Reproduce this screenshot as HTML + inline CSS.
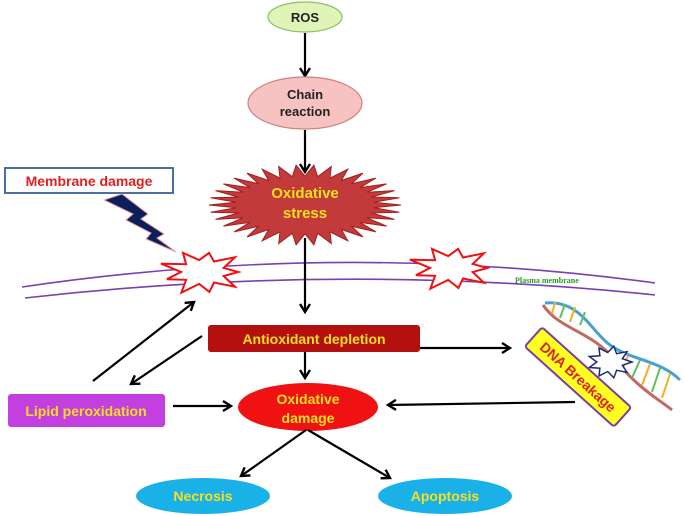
<!DOCTYPE html>
<html><head><meta charset="utf-8"><style>
html,body{margin:0;padding:0;background:#fff;}
svg{display:block;font-family:"Liberation Sans",Arial,sans-serif;font-weight:bold;}
</style></head><body>
<svg id="s" width="685" height="516" viewBox="0 0 685 516" xmlns="http://www.w3.org/2000/svg">
<defs>
<marker id="ah" markerWidth="12" markerHeight="12" refX="9" refY="6" orient="auto" markerUnits="userSpaceOnUse">
<path d="M1,1 L9,6 L1,11" fill="none" stroke="#000" stroke-width="2.4"/>
</marker>
</defs>
<path d="M22,287 Q340,240 655,283" fill="none" stroke="#7a3fb0" stroke-width="1.6"/>
<path d="M25,298 Q340,262 655,295" fill="none" stroke="#7a3fb0" stroke-width="1.6"/>
<g id="stars"></g>
<text x="515" y="283" font-family="Liberation Serif,serif" font-size="8" fill="#2a9a2a">Plasma membrane</text>

<ellipse cx="305" cy="17" rx="37" ry="15" fill="#dff5b8" stroke="#8cc060" stroke-width="1.2"/>
<text x="305" y="22" text-anchor="middle" font-size="13" fill="#222">ROS</text>
<line x1="305" y1="33" x2="305" y2="76" stroke="#000" stroke-width="2.2" marker-end="url(#ah)"/>
<ellipse cx="305" cy="103" rx="57" ry="26" fill="#f7c2c2" stroke="#d08080" stroke-width="1.2"/>
<text x="305" y="99" text-anchor="middle" font-size="13" fill="#222">Chain</text>
<text x="305" y="116" text-anchor="middle" font-size="13" fill="#222">reaction</text>
<line x1="305" y1="130" x2="305" y2="172" stroke="#000" stroke-width="2.2" marker-end="url(#ah)"/>
<polygon id="stress" fill="#c23a3a" stroke="#a02020" stroke-width="1"/>
<text x="305" y="198" text-anchor="middle" font-size="15" fill="#f5e020">Oxidative</text>
<text x="305" y="218" text-anchor="middle" font-size="15" fill="#f5e020">stress</text>
<line x1="305" y1="238" x2="305" y2="312" stroke="#000" stroke-width="2.2" marker-end="url(#ah)"/>

<rect x="5" y="168" width="168" height="25" fill="#fff" stroke="#4a6fa0" stroke-width="2"/>
<text x="89" y="186" text-anchor="middle" font-size="14" fill="#e02020">Membrane damage</text>
<polygon points="122,194 148,214 141,219 164,234 157,238 176,252 146,239 151,233 126,220 133,214 104,200" fill="#0b1f5c" stroke="#f0a0a0" stroke-width="1"/>

<rect x="208" y="325" width="212" height="27" rx="3" fill="#b51010"/>
<text x="314" y="344" text-anchor="middle" font-size="14" fill="#f5e020">Antioxidant depletion</text>
<line x1="305" y1="352" x2="305" y2="378" stroke="#000" stroke-width="2.2" marker-end="url(#ah)"/>
<line x1="420" y1="348" x2="510" y2="348" stroke="#000" stroke-width="2.2" marker-end="url(#ah)"/>

<ellipse cx="308" cy="407" rx="70" ry="24" fill="#f01212"/>
<text x="308" y="404" text-anchor="middle" font-size="14" fill="#f5e020">Oxidative</text>
<text x="308" y="423" text-anchor="middle" font-size="14" fill="#f5e020">damage</text>

<rect x="8" y="394" width="157" height="33" rx="3" fill="#c33fe0"/>
<text x="86" y="416" text-anchor="middle" font-size="14" fill="#f5e020">Lipid peroxidation</text>
<line x1="173" y1="406" x2="231" y2="406" stroke="#000" stroke-width="2.2" marker-end="url(#ah)"/>
<line x1="575" y1="402" x2="388" y2="405" stroke="#000" stroke-width="2.2" marker-end="url(#ah)"/>
<line x1="93" y1="381" x2="194" y2="302" stroke="#000" stroke-width="2.2" marker-end="url(#ah)"/>
<line x1="202" y1="336" x2="131" y2="384" stroke="#000" stroke-width="2.2" marker-end="url(#ah)"/>

<line x1="306" y1="430" x2="241" y2="476" stroke="#000" stroke-width="2.2" marker-end="url(#ah)"/>
<line x1="308" y1="430" x2="390" y2="478" stroke="#000" stroke-width="2.2" marker-end="url(#ah)"/>
<ellipse cx="203" cy="496" rx="67" ry="18" fill="#1ab0e8"/>
<text x="203" y="501" text-anchor="middle" font-size="14" fill="#f5e020">Necrosis</text>
<ellipse cx="445" cy="496" rx="67" ry="18" fill="#1ab0e8"/>
<text x="445" y="501" text-anchor="middle" font-size="14" fill="#f5e020">Apoptosis</text>

<g id="dna" fill="none" stroke-width="3">
<path d="M545,303 C580,300 590,330 610,345 C630,360 660,360 680,380" stroke="#4aa0d0"/>
<path d="M543,305 C560,330 590,330 615,360 C640,390 660,400 672,410" stroke="#c06a60"/>
<g stroke-width="2">
<line x1="555" y1="302" x2="552" y2="314" stroke="#f0b020"/>
<line x1="565" y1="304" x2="560" y2="318" stroke="#60c060"/>
<line x1="575" y1="307" x2="570" y2="322" stroke="#f0b020"/>
<line x1="585" y1="312" x2="580" y2="325" stroke="#60c060"/>
<line x1="628" y1="356" x2="622" y2="370" stroke="#f0b020"/>
<line x1="640" y1="360" x2="632" y2="378" stroke="#60c060"/>
<line x1="650" y1="364" x2="642" y2="385" stroke="#f0b020"/>
<line x1="660" y1="368" x2="652" y2="392" stroke="#60c060"/>
<line x1="670" y1="374" x2="662" y2="398" stroke="#f0b020"/>
</g>
</g>
<polygon id="dnastar" fill="#fff" stroke="#1a2a7a" stroke-width="1.5"/>
<g transform="translate(578,377) rotate(42)">
<rect x="-60" y="-13" width="120" height="26" rx="3" fill="#ffff20" stroke="#7a3fa0" stroke-width="2"/>
<text x="0" y="5" text-anchor="middle" font-size="14" fill="#e02020">DNA Breakage</text>
</g>
</svg>
<script>
function star(cx,cy,rx,ry,rin,n,jit){var p=[];for(var i=0;i<2*n;i++){var a=Math.PI*i/n;var r=i%2?rin:1;if(jit&&i%2==0)r*=1+((i*37)%7-3)*jit;p.push((cx+Math.cos(a)*rx*r).toFixed(1)+","+(cy+Math.sin(a)*ry*r).toFixed(1));}return p.join(" ");}
document.getElementById("stress").setAttribute("points",star(305,205,96,40,0.72,34,0));
document.getElementById("dnastar").setAttribute("points",star(610,362,22,16,0.6,9,0));
var g=document.getElementById("stars");
[[203,272,40,22],[452,268,40,22]].forEach(function(s){var e=document.createElementNS("http://www.w3.org/2000/svg","polygon");e.setAttribute("points",star(s[0],s[1],s[2],s[3],0.55,9,0.04));e.setAttribute("fill","#fff");e.setAttribute("stroke","#f01010");e.setAttribute("stroke-width","2");g.appendChild(e);});
</script>
</body></html>
